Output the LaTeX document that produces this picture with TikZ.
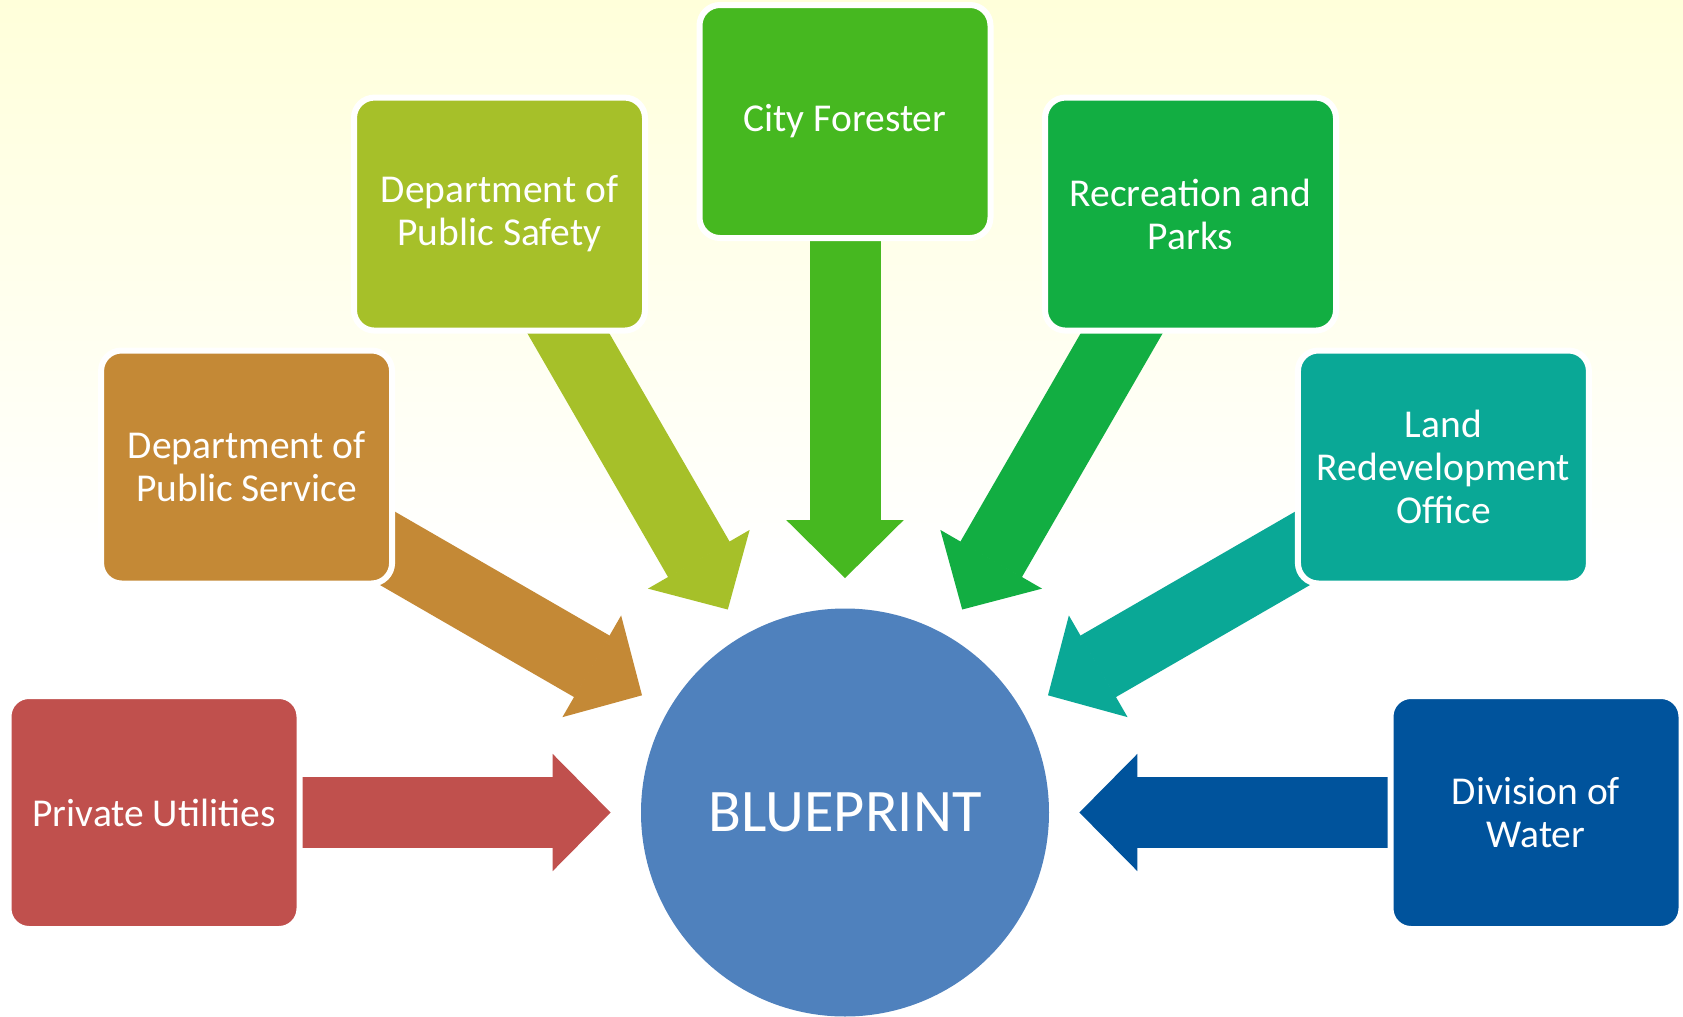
\documentclass[tikz,border=0pt]{standalone}
\usepackage{fontspec}
\setmainfont{Carlito}
\usetikzlibrary{arrows.meta,calc}
\pgfdeclarelayer{bg}
\pgfdeclarelayer{arr}
\pgfsetlayers{bg,arr,main}
\definecolor{cPU}{RGB}{192,80,77}
\definecolor{cSV}{RGB}{196,137,54}
\definecolor{cSF}{RGB}{166,192,41}
\definecolor{cCF}{RGB}{70,184,32}
\definecolor{cRP}{RGB}{18,174,66}
\definecolor{cLR}{RGB}{10,168,150}
\definecolor{cDW}{RGB}{0,83,156}
\definecolor{cBP}{RGB}{79,129,189}
\definecolor{cTop}{RGB}{255,255,218}
\begin{document}
\begin{tikzpicture}[x=0.5pt,y=0.5pt,
  box/.style={rounded corners=10.25pt, draw=white, line width=3pt,
    minimum width=145.5pt, minimum height=116.5pt, inner sep=0pt,
    text=white, font=\fontsize{19.75}{21.5}\selectfont, align=center},
  flow/.style={line width=35.5pt,
    -{Triangle[width=58.5pt,length=29pt,line width=1pt]},
    shorten >=15pt}]
\useasboundingbox (0,0) rectangle (1683,-1017);
\coordinate (C) at (845,-812.5);
\begin{pgfonlayer}{bg}
  \fill[white] (0,0) rectangle (1683,-1017);
  \shade[top color=cTop, bottom color=white] (0,0) rectangle (1683,-560);
\end{pgfonlayer}

\node[circle, fill=cBP, minimum size=204pt, inner sep=0pt, text=white,
  font=\fontsize{30.2}{36}\selectfont] (bp) at (C) {BLUEPRINT};

\node[box, fill=cPU] (pu) at ($(C)+(180:691)$) {Private Utilities};
\node[box, fill=cSV] (sv) at ($(C)+(150:691)$) {Department of\\Public Service};
\node[box, fill=cSF] (sf) at ($(C)+(120:691)$) {Department of\\Public Safety};
\node[box, fill=cCF] (cf) at ($(C)+(90:691)$) {City Forester};
\node[box, fill=cRP] (rp) at ($(C)+(60:691)$) {Recreation and\\Parks};
\node[box, fill=cLR] (lr) at ($(C)+(30:691)$) {Land\\Redevelopment\\Office};
\node[box, fill=cDW] (dw) at ($(C)+(0:691)$) {Division of\\Water};

\begin{pgfonlayer}{arr}
  \draw[flow, cPU] (pu.center) -- (bp);
  \draw[flow, cSV] (sv.center) -- (bp);
  \draw[flow, cSF] (sf.center) -- (bp);
  \draw[flow, cCF] (cf.center) -- (bp);
  \draw[flow, cRP] (rp.center) -- (bp);
  \draw[flow, cLR] (lr.center) -- (bp);
  \draw[flow, cDW] (dw.center) -- (bp);
\end{pgfonlayer}
\end{tikzpicture}
\end{document}
